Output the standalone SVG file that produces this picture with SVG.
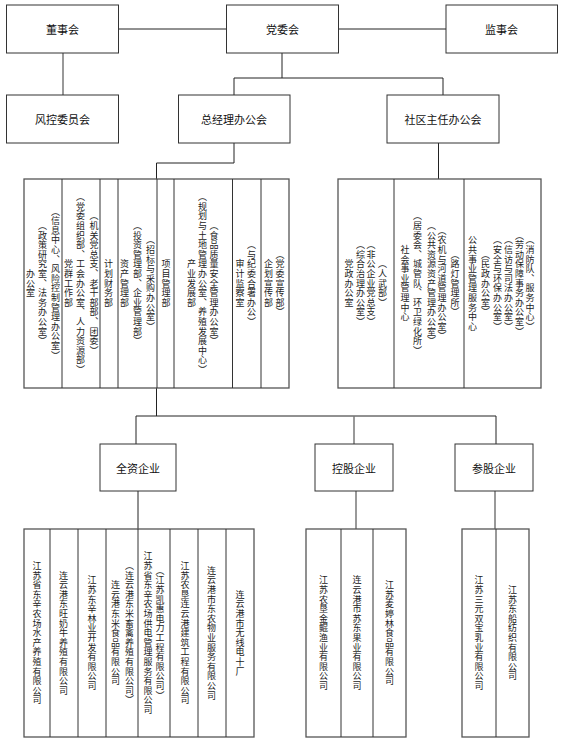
<svg xmlns="http://www.w3.org/2000/svg" width="561" height="746" viewBox="0 0 561 746">
<style>
.bg{fill:#ffffff}
.box{fill:#ffffff;stroke:#333333;stroke-width:1}
.blk{fill:#ffffff;stroke:#555555;stroke-width:1.3}
.div{stroke:#333333;stroke-width:1;fill:none}
.ln{stroke:#222222;stroke-width:1;fill:none}
.lg{stroke:#777777;stroke-width:1.5;fill:none}
.t{font-family:"Noto Sans CJK SC","Noto Sans CJK JP",sans-serif;font-size:11px;fill:#111111;text-anchor:middle;dominant-baseline:central}
.v{font-family:"Noto Sans CJK SC","Noto Sans CJK JP",sans-serif;font-size:9px;letter-spacing:0.6px;fill:#222222;text-anchor:middle;writing-mode:vertical-rl}
</style>
<rect class="bg" x="0" y="0" width="561" height="746"/>
<g id="connectors">
<line class="ln" x1="118.5" y1="29" x2="226.5" y2="29"/>
<line class="ln" x1="338.5" y1="29" x2="446" y2="29"/>
<line class="lg" x1="63" y1="53" x2="63" y2="95"/>
<polyline class="ln" points="282,53 282,78"/>
<polyline class="ln" points="234,95 234,78 443,78 443,95"/>
<polyline class="ln" points="234,143 234,163 156.5,163 156.5,179"/>
<line class="ln" x1="438.5" y1="143" x2="438.5" y2="179"/>
<line class="ln" x1="156.5" y1="388" x2="156.5" y2="416"/>
<polyline class="ln" points="136,444 136,416 496,416 496,444"/>
<line class="lg" x1="354" y1="416" x2="354" y2="444"/>
<line class="ln" x1="138" y1="491" x2="138" y2="529"/>
<line class="lg" x1="356" y1="491" x2="356" y2="529"/>
<line class="lg" x1="495" y1="491" x2="495" y2="529"/>
</g>
<g id="dongshihui"><rect class="box" x="6.5" y="5" width="112" height="48"/><text class="t" x="62.5" y="29">董事会</text></g>
<g id="dangweihui"><rect class="box" x="226.5" y="5" width="112" height="48"/><text class="t" x="282.5" y="29">党委会</text></g>
<g id="jianshihui"><rect class="box" x="446" y="5" width="111.5" height="48"/><text class="t" x="501.5" y="29">监事会</text></g>
<g id="fengkong"><rect class="box" x="6.5" y="95" width="112" height="48"/><text class="t" x="62.5" y="119">风控委员会</text></g>
<g id="zongjingli"><rect class="box" x="178.5" y="95" width="111.5" height="48"/><text class="t" x="234" y="119">总经理办公会</text></g>
<g id="shequ"><rect class="box" x="387" y="95" width="112" height="48"/><text class="t" x="443" y="119">社区主任办公会</text></g>
<g id="depts-left">
<rect class="blk" x="24" y="179" width="265" height="209"/>
<path class="div" d="M62,179V388M100,179V388M118,179V388M157,179V388M174,179V388M232.5,179V388M261,179V388"/>
<text class="v" x="55.5" y="283.5">（信息中心、风险控制管理办公室）</text>
<text class="v" x="42.5" y="283.5">（政策研究室、法务办公室）</text>
<text class="v" x="30.5" y="283.5">办公室</text>
<text class="v" x="94" y="283.5">（机关党总支、老干部部、团委）</text>
<text class="v" x="80.5" y="283.5">（党委组织部、工会办公室、人力资源部）</text>
<text class="v" x="68.5" y="283.5">党群工作部</text>
<text class="v" x="108.5" y="283.5">计划财务部</text>
<text class="v" x="150.5" y="283.5">（招标与采购办公室）</text>
<text class="v" x="137.5" y="283.5">（投资管理部、企业管理部）</text>
<text class="v" x="124.5" y="283.5">资产管理部</text>
<text class="v" x="166" y="283.5">项目管理部</text>
<text class="v" x="214" y="283.5">（食品质量安全管理办公室）</text>
<text class="v" x="202.5" y="283.5">（规划与土地管理办公室、养殖发展中心）</text>
<text class="v" x="191.5" y="283.5">产业发展部</text>
<text class="v" x="251.5" y="283.5">（与纪委合署办公）</text>
<text class="v" x="240" y="283.5">审计监察室</text>
<text class="v" x="280" y="283.5">（党委宣传部）</text>
<text class="v" x="268.5" y="283.5">企划宣传部</text>
</g>
<g id="depts-right">
<rect class="blk" x="338" y="179" width="203" height="209"/>
<path class="div" d="M394,179V388M464,179V388"/>
<text class="v" x="382.5" y="283.5">（人武部）</text>
<text class="v" x="371" y="283.5">（非公企业党总支）</text>
<text class="v" x="360.5" y="283.5">（综合治理办公室）</text>
<text class="v" x="349" y="283.5">党政办公室</text>
<text class="v" x="455" y="283.5">（路灯管理所）</text>
<text class="v" x="442" y="283.5">（农机与河道管理办公室）</text>
<text class="v" x="431.5" y="283.5">（公共资源资产管理办公室）</text>
<text class="v" x="417.5" y="283.5">（居委会、城管队、环卫绿化所）</text>
<text class="v" x="405" y="283.5">社会事业管理中心</text>
<text class="v" x="530" y="283.5">（消防队、服务中心）</text>
<text class="v" x="519.5" y="283.5">（劳动保障事务办公室）</text>
<text class="v" x="508.5" y="283.5">（信访与司法办公室）</text>
<text class="v" x="497.5" y="283.5">（安全与环保办公室）</text>
<text class="v" x="485.5" y="283.5">（民政办公室）</text>
<text class="v" x="472.5" y="283.5">公共事业管理服务中心</text>
</g>
<g id="quanzi"><rect class="box" x="100" y="444" width="76" height="47"/><text class="t" x="138" y="467.5">全资企业</text></g>
<g id="konggu"><rect class="box" x="315" y="444" width="78" height="47"/><text class="t" x="354" y="467.5">控股企业</text></g>
<g id="cangu"><rect class="box" x="455" y="444" width="78" height="47"/><text class="t" x="494" y="467.5">参股企业</text></g>
<g id="companies-quanzi">
<rect class="blk" x="24" y="529" width="230" height="208"/>
<path class="div" d="M50,529V737M78,529V737M106,529V737M138,529V737M170,529V737M198,529V737M226,529V737"/>
<text class="v" x="37" y="633">江苏省东辛农场水产养殖有限公司</text>
<text class="v" x="63.5" y="633">连云港东旺奶牛养殖有限公司</text>
<text class="v" x="92" y="633">江苏东辛林业开发有限公司</text>
<text class="v" x="129.5" y="633">（连云港东米畜禽养殖有限公司）</text>
<text class="v" x="115.5" y="633">连云港东米食品有限公司</text>
<text class="v" x="160" y="633">（江苏凯惠电力工程有限公司）</text>
<text class="v" x="148" y="633">江苏省东辛农场供电管理服务有限公司</text>
<text class="v" x="185" y="633">江苏农垦连云港建筑工程有限公司</text>
<text class="v" x="211.5" y="633">连云港市东农物业服务有限公司</text>
<text class="v" x="240" y="633">连云港市无线电十厂</text>
</g>
<g id="companies-konggu">
<rect class="blk" x="306" y="529" width="100" height="208"/>
<path class="div" d="M341,529V737M373,529V737"/>
<text class="v" x="323.5" y="633">江苏农垦金鲲渔业有限公司</text>
<text class="v" x="357" y="633">连云港市苏东果业有限公司</text>
<text class="v" x="389.5" y="633">江苏麦婷林食品有限公司</text>
</g>
<g id="companies-cangu">
<rect class="blk" x="462" y="529" width="67" height="208"/>
<path class="div" d="M496,529V737"/>
<text class="v" x="479" y="633">江苏三元双宝乳业有限公司</text>
<text class="v" x="512.5" y="633">江苏东船纺织有限公司</text>
</g>
</svg>
